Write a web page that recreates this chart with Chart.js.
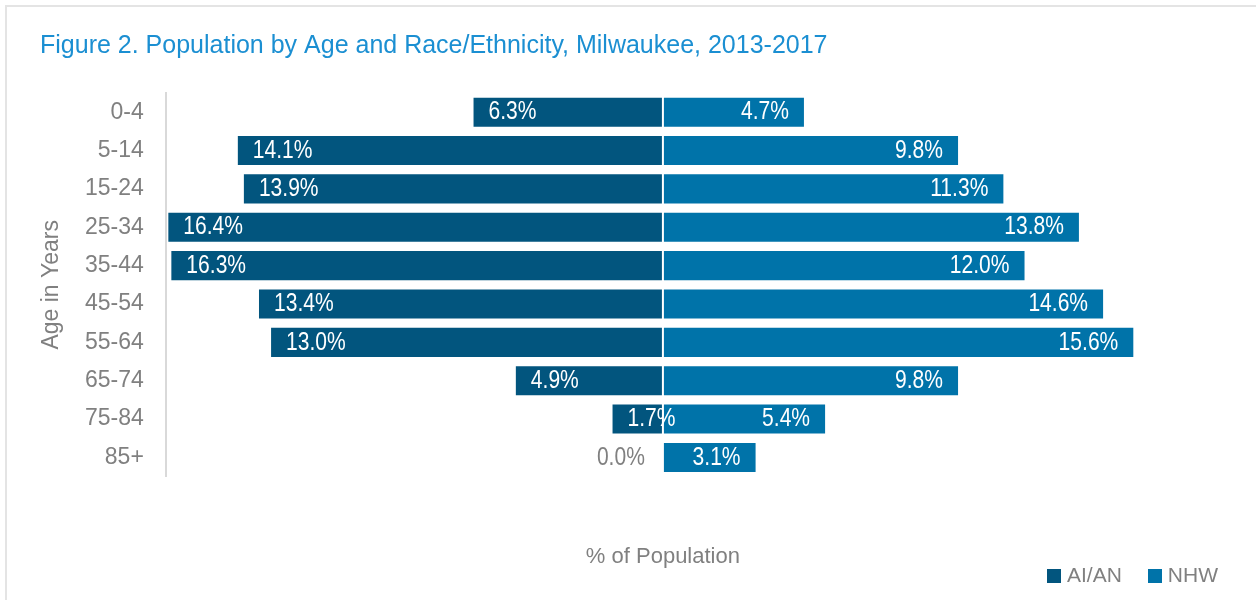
<!DOCTYPE html>
<html>
<head>
<meta charset="utf-8">
<title>Population by Age and Race/Ethnicity, Milwaukee</title>
<script src="https://cdn.jsdelivr.net/npm/chart.js@4.4.1/dist/chart.umd.min.js"></script>
<style>
  html, body { margin: 0; padding: 0; background: #fff; }
  #wrap { position: relative; width: 1256px; height: 600px; overflow: hidden; }
  #frame { position: absolute; left: 5px; top: 5px; width: 1270px; height: 620px; border: 2px solid #e4e4e4; box-sizing: border-box; }
  #chart { position: absolute; left: 0; top: 0; }
  #legend { position: absolute; right: 38px; top: 563px; font: 21px 'Liberation Sans', Arial, sans-serif; color: #808080; }
  #legend span { display: inline-block; margin-left: 26px; }
  #legend i { display: inline-block; width: 14px; height: 14px; margin-right: 6px; vertical-align: -1px; }
</style>
</head>
<body>
<div id="wrap">
  <div id="frame"></div>
  <canvas id="chart" width="1256" height="600"></canvas>
  <div id="legend"></div>
</div>
<script>
const ageGroups = ['0-4', '5-14', '15-24', '25-34', '35-44', '45-54', '55-64', '65-74', '75-84', '85+'];
const aianPct = [6.3, 14.1, 13.9, 16.4, 16.3, 13.4, 13.0, 4.9, 1.7, 0.0];
const nhwPct = [4.7, 9.8, 11.3, 13.8, 12.0, 14.6, 15.6, 9.8, 5.4, 3.1];
const seriesNames = ['AI/AN', 'NHW'];

const DARK = '#02557e';
const LIGHT = '#0073a9';
const GREY = '#808080';
const FONT = "'Liberation Sans', Arial, sans-serif";
const SQUEEZE = 0.81; // no narrow font installed, so squash the labels a bit

function narrowText(ctx, text, x, y) {
    ctx.save();
    ctx.translate(x, y);
    ctx.scale(SQUEEZE, 1);
    ctx.fillText(text, 0, 0);
    ctx.restore();
}

// writes the % value on every bar, AI/AN at the left end, NHW at the right end
const barLabels = {
    id: 'barLabels',
    afterDatasetsDraw(chart) {
        const ctx = chart.ctx;
        ctx.save();
        ctx.font = '26px ' + FONT;
        ctx.textBaseline = 'middle';
        chart.data.datasets.forEach((ds, di) => {
            const meta = chart.getDatasetMeta(di);
            meta.data.forEach((bar, i) => {
                const v = Math.abs(ds.data[i]);
                const text = v.toFixed(1) + '%';
                if (di === 0) {
                    if (v === 0) {
                        // nothing to sit on, so it goes outside in grey
                        ctx.fillStyle = GREY;
                        ctx.textAlign = 'right';
                        narrowText(ctx, text, bar.base - 18, bar.y);
                    } else {
                        ctx.fillStyle = '#fff';
                        ctx.textAlign = 'left';
                        narrowText(ctx, text, bar.x + 16, bar.y);
                    }
                } else {
                    ctx.fillStyle = '#fff';
                    ctx.textAlign = 'right';
                    narrowText(ctx, text, bar.x - 16, bar.y);
                }
            });
        });
        ctx.restore();
    }
};

const chart = new Chart(document.getElementById('chart'), {
    type: 'bar',
    data: {
        labels: ageGroups,
        datasets: [
            {
                label: seriesNames[0],
                data: aianPct.map(v => -v),
                backgroundColor: DARK
            },
            {
                label: seriesNames[1],
                data: nhwPct,
                backgroundColor: LIGHT
            }
        ]
    },
    options: {
        indexAxis: 'y',
        responsive: false,
        animation: false,
        layout: { padding: { left: 40, right: 96, top: 0, bottom: 0 } },
        datasets: {
            bar: {
                categoryPercentage: 1,
                barPercentage: 0.81,
                borderWidth: 1,
                borderColor: 'rgba(255,255,255,0.22)',
                borderSkipped: false
            }
        },
        scales: {
            x: {
                stacked: true,
                min: -16.45,
                max: 16.45,
                grid: { display: false, drawTicks: false },
                border: { display: false },
                ticks: { display: false },
                title: {
                    display: true,
                    text: '% of Population',
                    color: GREY,
                    font: { family: FONT, size: 22 },
                    padding: { top: 67, bottom: 30 }
                }
            },
            y: {
                stacked: true,
                grid: { display: false, drawTicks: false },
                border: { display: true, color: '#d9d9d9', width: 2 },
                ticks: {
                    color: GREY,
                    font: { family: FONT, size: 23 },
                    padding: 22
                },
                title: {
                    display: true,
                    text: 'Age in Years',
                    color: GREY,
                    font: { family: FONT, size: 23, lineHeight: 1 },
                    padding: { top: 0, bottom: 0 }
                }
            }
        },
        plugins: {
            legend: { display: false },
            tooltip: { enabled: false },
            title: {
                display: true,
                text: 'Figure 2. Population by Age and Race/Ethnicity, Milwaukee, 2013-2017',
                align: 'start',
                color: '#1b8fd2',
                font: { family: FONT, size: 25, weight: 'normal' },
                padding: { top: 31, bottom: 32 }
            }
        }
    },
    plugins: [barLabels]
});

// simple html legend built from the datasets
document.getElementById('legend').innerHTML = chart.data.datasets
    .map(ds => `<span><i style="background:${ds.backgroundColor}"></i>${ds.label}</span>`)
    .join('');
</script>
</body>
</html>
